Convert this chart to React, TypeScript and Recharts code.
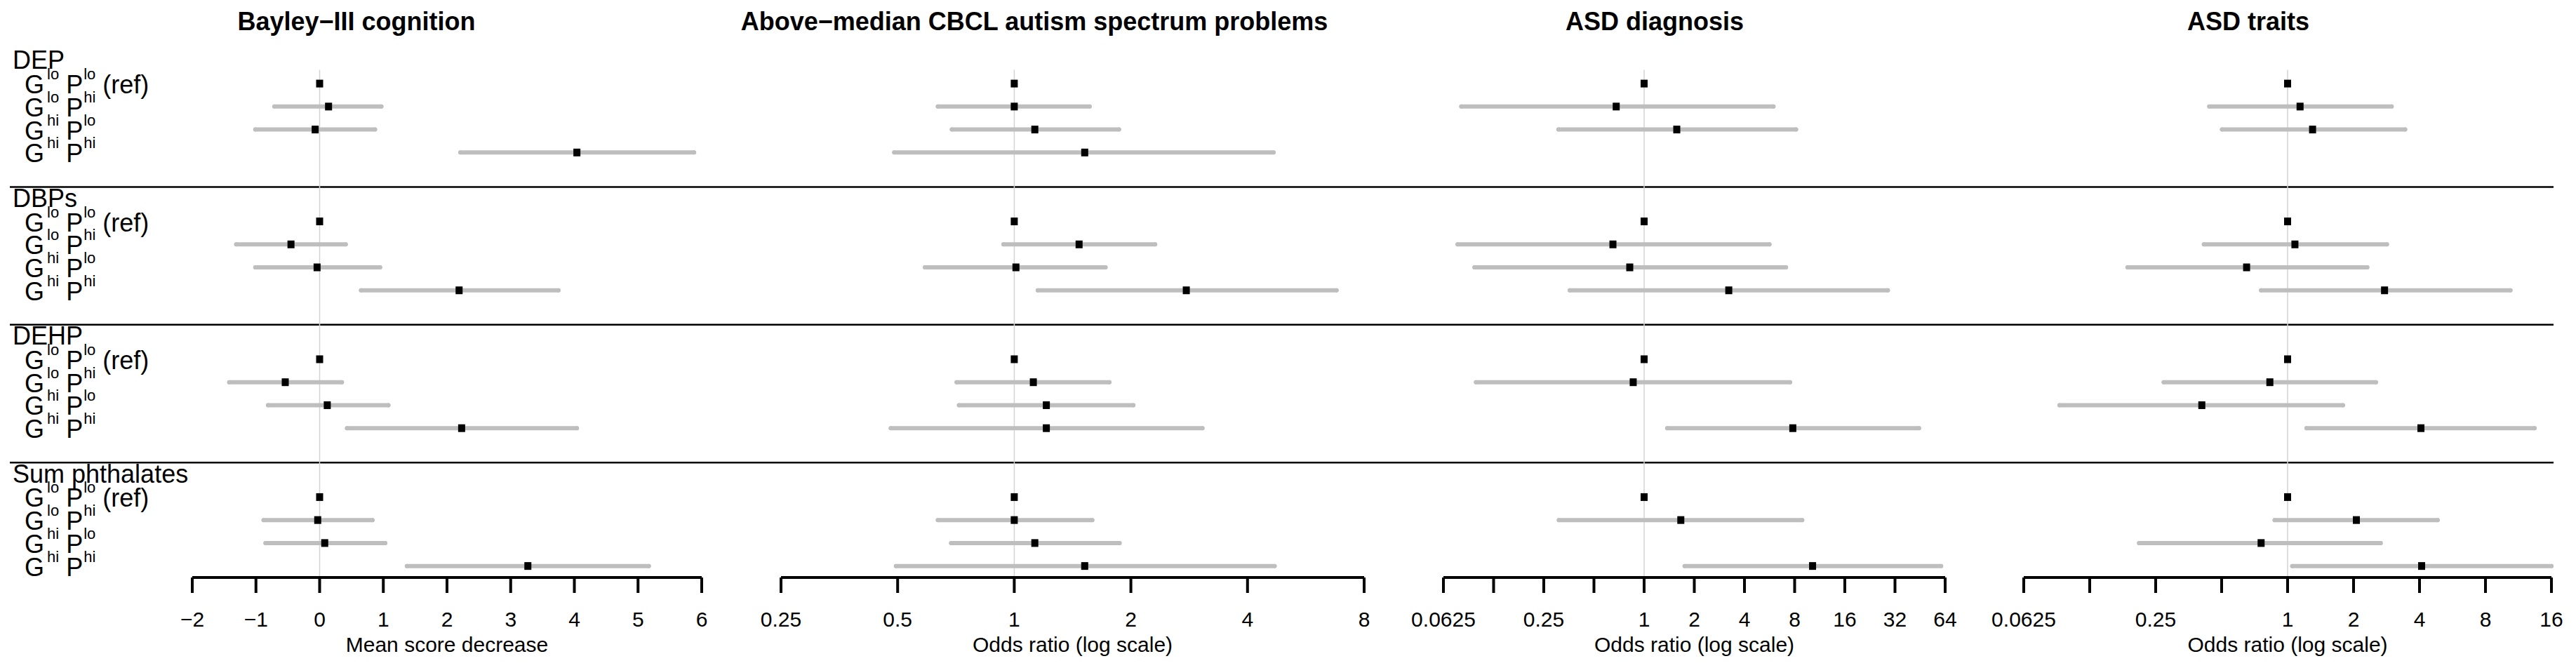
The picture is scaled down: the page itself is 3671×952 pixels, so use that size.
import React from 'react';
import { ScatterChart, Scatter, XAxis, YAxis, ErrorBar, ReferenceLine } from 'recharts';

const FONT = '"Liberation Sans", Arial, Helvetica, sans-serif';
const W = 3671;
const H = 952;
const TOP = 70;      // top of the row grid
const AXIS_H = 129;  // room under the plot for ticks + axis title
const SIDE = 60;     // side margin of each panel chart
const ROWS = 23;     // 4 groups x 6 rows, minus the last blank row

// row structure
const groupNames = ['DEP', 'DBPs', 'DEHP', 'Sum phthalates'];
const gLevels = ['lo', 'lo', 'hi', 'hi'];
const pLevels = ['lo', 'hi', 'lo', 'hi'];

// Bayley-III cognition (mean score decrease), 4 rows per group
const bayleyEst = [0, 0.14, -0.07, 4.04, 0, -0.45, -0.04, 2.19, 0, -0.54, 0.12, 2.23, 0, -0.03, 0.08, 3.27];
const bayleyLo = [0, -0.71, -1.01, 2.21, 0, -1.31, -1.01, 0.65, 0, -1.42, -0.81, 0.43, 0, -0.88, -0.85, 1.37];
const bayleyHi = [0, 0.97, 0.87, 5.88, 0, 0.41, 0.95, 3.75, 0, 0.35, 1.08, 4.04, 0, 0.83, 1.03, 5.17];
const bayleyTicks = [-2, -1, 0, 1, 2, 3, 4, 5, 6];
const bayleyTickLabels = ['\u22122', '\u22121', '0', '1', '2', '3', '4', '5', '6'];

// Above-median CBCL autism spectrum problems (odds ratio)
const cbclEst = [1, 1.0, 1.13, 1.52, 1, 1.47, 1.01, 2.78, 1, 1.12, 1.21, 1.21, 1, 1.0, 1.13, 1.52];
const cbclLo = [1, 0.635, 0.69, 0.49, 1, 0.938, 0.588, 1.15, 1, 0.71, 0.72, 0.48, 1, 0.635, 0.687, 0.495];
const cbclHi = [1, 1.565, 1.864, 4.67, 1, 2.31, 1.72, 6.79, 1, 1.76, 2.03, 3.06, 1, 1.59, 1.87, 4.7];
const cbclTicks = [0.25, 0.5, 1, 2, 4, 8];
const cbclTickLabels = ['0.25', '0.5', '1', '2', '4', '8'];

// ASD diagnosis (odds ratio), null = not estimated
const asdDxEst = [1, 0.68, 1.57, null, 1, 0.65, 0.82, 3.22, 1, 0.86, null, 7.8, 1, 1.66, null, 10.25];
const asdDxLo = [1, 0.08, 0.306, null, 1, 0.076, 0.096, 0.358, 1, 0.098, null, 1.376, 1, 0.308, null, 1.75];
const asdDxHi = [1, 5.97, 8.16, null, 1, 5.65, 7.1, 29.0, 1, 7.51, null, 44.6, 1, 8.88, null, 60.5];
const asdDxTicks = [0.0625, 0.125, 0.25, 0.5, 1, 2, 4, 8, 16, 32, 64];
const asdDxTickLabels = ['0.0625', '', '0.25', '', '1', '2', '4', '8', '16', '32', '64'];

// ASD traits (odds ratio)
const asdTrEst = [1, 1.14, 1.3, null, 1, 1.08, 0.65, 2.77, 1, 0.83, 0.406, 4.06, 1, 2.06, 0.757, 4.09];
const asdTrLo = [1, 0.439, 0.502, null, 1, 0.415, 0.186, 0.757, 1, 0.272, 0.091, 1.22, 1, 0.873, 0.21, 1.05];
const asdTrHi = [1, 2.985, 3.44, null, 1, 2.84, 2.31, 10.4, 1, 2.53, 1.79, 13.4, 1, 4.84, 2.66, 16.0];
const asdTrTicks = [0.0625, 0.125, 0.25, 0.5, 1, 2, 4, 8, 16];
const asdTrTickLabels = ['0.0625', '', '0.25', '', '1', '2', '4', '8', '16'];

const panels = [
  {
    title: 'Bayley\u2212III cognition', titleX: 508, est: bayleyEst, lo: bayleyLo, hi: bayleyHi,
    scale: 'linear', domain: [-2, 6], ticks: bayleyTicks, tickLabels: bayleyTickLabels, refX: 0,
    axisLabel: 'Mean score decrease', x0: 274, x1: 1000,
  },
  {
    title: 'Above\u2212median CBCL autism spectrum problems', titleX: 1474, est: cbclEst, lo: cbclLo, hi: cbclHi,
    scale: 'log', domain: [0.25, 8], ticks: cbclTicks, tickLabels: cbclTickLabels, refX: 1,
    axisLabel: 'Odds ratio (log scale)', x0: 1113, x1: 1944,
  },
  {
    title: 'ASD diagnosis', titleX: 2358, est: asdDxEst, lo: asdDxLo, hi: asdDxHi,
    scale: 'log', domain: [0.0625, 64], ticks: asdDxTicks, tickLabels: asdDxTickLabels, refX: 1,
    axisLabel: 'Odds ratio (log scale)', x0: 2057, x1: 2772,
  },
  {
    title: 'ASD traits', titleX: 3204, est: asdTrEst, lo: asdTrLo, hi: asdTrHi,
    scale: 'log', domain: [0.0625, 16], ticks: asdTrTicks, tickLabels: asdTrTickLabels, refX: 1,
    axisLabel: 'Odds ratio (log scale)', x0: 2884, x1: 3636,
  },
];

function buildRows(est, lo, hi) {
  const rows = [];
  est.forEach((e, i) => {
    if (e === null) return;
    const g = Math.floor(i / 4);
    const c = i % 4;
    rows.push({ y: g * 6 + c + 1.5, est: e, err: [e - lo[i], hi[i] - e] });
  });
  return rows;
}

// left-hand labels: one group heading then four contrasts per group
const labelRows = [];
groupNames.forEach((name, g) => {
  labelRows.push({ x: 0, y: g * 6 + 0.5, kind: 'group', name });
  gLevels.forEach((gl, c) => {
    labelRows.push({ x: 0, y: g * 6 + c + 1.5, kind: 'row', g: gl, p: pLevels[c], ref: c === 0 });
  });
});

const separators = groupNames.slice(1).map((_, i) => (i + 1) * 6);

const RowLabel = (props) => {
  const { cx, cy, payload } = props;
  if (payload.kind === 'group') {
    return (
      <text x={cx + 4} y={cy + 12} fontSize={36} fontFamily={FONT} fill="#000">
        {payload.name}
      </text>
    );
  }
  return (
    <text x={cx + 21} y={cy + 14} fontSize={36} fontFamily={FONT} fill="#000">
      G
      <tspan dx={4} dy={-20} fontSize={22}>{payload.g}</tspan>
      <tspan dy={20} fontSize={36}>{' P'}</tspan>
      <tspan dx={1} dy={-20} fontSize={22}>{payload.p}</tspan>
      <tspan dy={20} fontSize={36}>{payload.ref ? ' (ref)' : ''}</tspan>
    </text>
  );
};

const Square = (props) => {
  const { cx, cy } = props;
  return <rect x={cx - 5} y={cy - 5.5} width={10} height={11} fill="#000" />;
};

function Panel({ p }) {
  const rows = buildRows(p.est, p.lo, p.hi);
  const width = p.x1 - p.x0 + 2 * SIDE;
  return (
    <div style={{ position: 'absolute', left: p.x0 - SIDE, top: 0 }}>
      <ScatterChart width={width} height={H} margin={{ top: TOP, right: SIDE, bottom: 0, left: SIDE }}>
        <XAxis
          type="number"
          dataKey="est"
          scale={p.scale}
          domain={p.domain}
          ticks={p.ticks}
          allowDataOverflow
          interval={0}
          height={AXIS_H}
          tickFormatter={(v, i) => p.tickLabels[i]}
          axisLine={{ stroke: '#000', strokeWidth: 4 }}
          tickLine={{ stroke: '#000', strokeWidth: 4 }}
          tickSize={22}
          tickMargin={27}
          tick={{ fill: '#000', fontSize: 30, fontFamily: FONT }}
          label={{ value: p.axisLabel, position: 'insideBottom', offset: 23, fill: '#000', fontSize: 30, fontFamily: FONT }}
        />
        <YAxis type="number" dataKey="y" domain={[0, ROWS]} reversed hide width={0} />
        <ReferenceLine
          segment={[{ x: p.refX, y: 0.9 }, { x: p.refX, y: ROWS }]}
          stroke="#D3D3D3"
          strokeWidth={1.5}
        />
        <Scatter data={rows} shape={Square} isAnimationActive={false}>
          <ErrorBar
            dataKey="err"
            direction="x"
            width={0}
            stroke="#BEBEBE"
            strokeWidth={6}
            strokeLinecap="round"
            isAnimationActive={false}
          />
        </Scatter>
      </ScatterChart>
    </div>
  );
}

export default function App() {
  return (
    <div style={{ position: 'absolute', left: 0, top: 0, width: W, height: H, background: '#fff', overflow: 'hidden' }}>
      <div style={{ position: 'absolute', left: 0, top: 0 }}>
        <ScatterChart width={W} height={H} margin={{ top: TOP, right: 32, bottom: AXIS_H, left: 14 }}>
          <XAxis type="number" dataKey="x" domain={[0, 1]} hide />
          <YAxis type="number" dataKey="y" domain={[0, ROWS]} reversed hide width={0} />
          {separators.map((y) => (
            <ReferenceLine key={y} y={y} stroke="#000" strokeWidth={2.5} />
          ))}
          <Scatter data={labelRows} shape={RowLabel} isAnimationActive={false} />
        </ScatterChart>
      </div>
      {panels.map((p) => (
        <Panel key={p.title} p={p} />
      ))}
      {panels.map((p) => (
        <div
          key={'t' + p.title}
          style={{
            position: 'absolute',
            left: p.titleX - 600,
            width: 1200,
            top: 13,
            textAlign: 'center',
            fontFamily: FONT,
            fontSize: 36,
            fontWeight: 'bold',
            lineHeight: '36px',
            color: '#000',
          }}
        >
          {p.title}
        </div>
      ))}
    </div>
  );
}
